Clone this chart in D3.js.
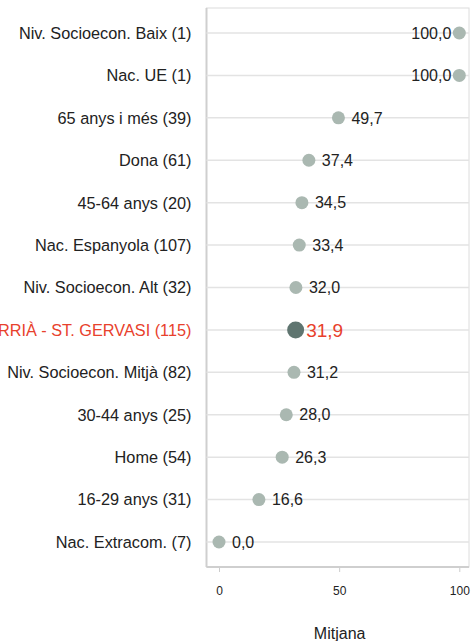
<!DOCTYPE html>
<html><head><meta charset="utf-8">
<script src="https://cdn.jsdelivr.net/npm/d3@7"></script>
<style>body{margin:0;background:#fff;overflow:hidden}svg{display:block;font-family:"Liberation Sans",Arial,sans-serif}</style>
</head><body><svg id="c" width="471" height="641"></svg>
<script>
const categories = ["Niv. Socioecon. Baix (1)","Nac. UE (1)","65 anys i més (39)","Dona (61)","45-64 anys (20)","Nac. Espanyola (107)","Niv. Socioecon. Alt (32)","SARRIÀ - ST. GERVASI (115)","Niv. Socioecon. Mitjà (82)","30-44 anys (25)","Home (54)","16-29 anys (31)","Nac. Extracom. (7)"];
const values = [100.0,100.0,49.7,37.4,34.5,33.4,32.0,31.9,31.2,28.0,26.3,16.6,0.0];
const highlight = "SARRIÀ - ST. GERVASI (115)";
const xTicks = [0,50,100];
const xTitle = "Mitjana";

const svg = d3.select("#c");
const L = 206.5, R = 469, T = 8, B = 567;
const x = d3.scaleLinear().domain([0,100]).range([219,459.3]);
const y = d3.scalePoint().domain(categories).range([T,B]).padding(0.59);
const fmt = v => d3.format(".1f")(v).replace(".",",");

// frame
svg.append("rect").attr("x",L).attr("y",T).attr("width",R-L).attr("height",B-T)
  .attr("fill","none").attr("stroke","#dcdcdc").attr("stroke-width",1);
svg.append("line").attr("x1",L).attr("x2",L).attr("y1",T).attr("y2",B).attr("stroke","#cfcfcf").attr("stroke-width",2);
svg.append("line").attr("x1",L).attr("x2",R).attr("y1",B).attr("y2",B).attr("stroke","#cfcfcf").attr("stroke-width",2);

// grid
svg.selectAll(".grid").data(categories).join("line")
  .attr("x1",L).attr("x2",R).attr("y1",d=>y(d)).attr("y2",d=>y(d))
  .attr("stroke","#e3e3e3").attr("stroke-width",1.5);

// x axis
const xa = svg.append("g").attr("transform",`translate(0,${B+1})`)
  .call(d3.axisBottom(x).tickValues(xTicks).tickSize(4).tickPadding(14).tickFormat(d3.format("d")));
xa.select(".domain").remove();
xa.selectAll(".tick line").attr("stroke","#cccccc");
xa.selectAll(".tick text").attr("fill","#222").style("font-size","12px");
svg.append("text").attr("x",x(50)+0.5).attr("y",638.5).attr("text-anchor","middle")
  .attr("fill","#222").style("font-size","16px").text(xTitle);

// y labels
svg.selectAll(".yl").data(categories).join("text")
  .attr("x",191.5).attr("y",d=>y(d)).attr("dy","0.36em").attr("text-anchor","end")
  .attr("fill",d=>d===highlight?"#e8412c":"#222").style("font-size","16.3px").text(d=>d);

const data = categories.map((c,i)=>({c,v:values[i]}));
// dots
svg.selectAll(".dot").data(data).join("circle")
  .attr("cx",d=>x(d.v)).attr("cy",d=>y(d.c))
  .attr("r",d=>d.c===highlight?8.5:6.5)
  .attr("fill",d=>d.c===highlight?"#5f7570":"#aab8b1");
// value labels
svg.selectAll(".vl").data(data).join("text")
  .attr("x",d=>d.c===highlight?x(d.v)+10.5:(d.v>=90?x(d.v)-8:x(d.v)+13))
  .attr("y",d=>y(d.c)).attr("dy","0.36em")
  .attr("text-anchor",d=>d.v>=90&&d.c!==highlight?"end":"start")
  .attr("fill",d=>d.c===highlight?"#e8412c":"#222")
  .style("font-size",d=>d.c===highlight?"19px":"16px").text(d=>fmt(d.v));
</script></body></html>
